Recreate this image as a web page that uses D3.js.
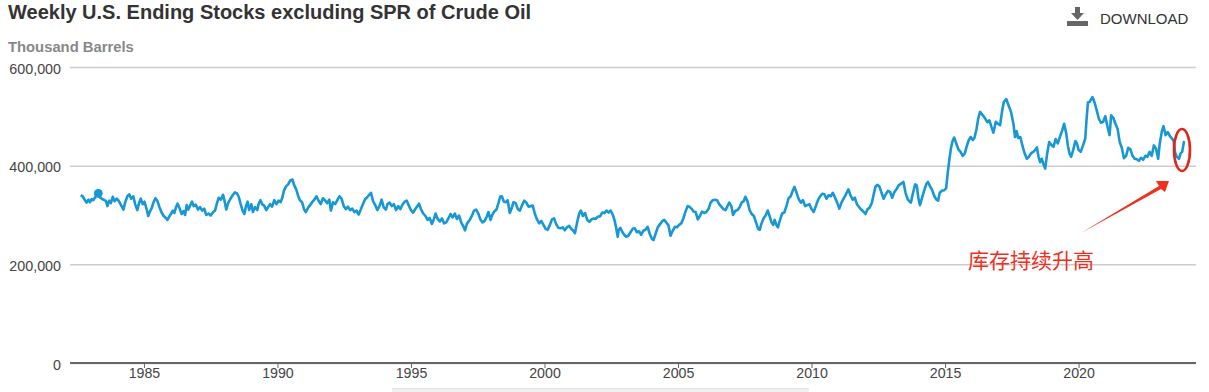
<!DOCTYPE html>
<html>
<head>
<meta charset="utf-8">
<script src="https://cdnjs.cloudflare.com/ajax/libs/d3/7.8.5/d3.min.js"></script>
<style>
  html, body { margin: 0; padding: 0; background: #fff; }
  svg { display: block; }
</style>
</head>
<body>
<script>
// weekly crude stocks excl. SPR (thousand barrels)
var years = [
  1982.63,1982.7,1982.78,1982.85,1982.92,1982.98,1983.04,1983.1,1983.2,1983.29,1983.36,1983.42,
  1983.5,1983.58,1983.63,1983.7,1983.76,1983.83,1983.9,1983.98,1984.04,1984.12,1984.23,1984.3,
  1984.38,1984.45,1984.52,1984.6,1984.67,1984.75,1984.82,1984.88,1984.95,1985.02,1985.1,1985.16,
  1985.23,1985.29,1985.36,1985.43,1985.5,1985.58,1985.66,1985.74,1985.82,1985.88,1985.95,1986.02,
  1986.08,1986.14,1986.2,1986.26,1986.33,1986.41,1986.48,1986.54,1986.6,1986.66,1986.72,1986.8,
  1986.86,1986.94,1987.02,1987.1,1987.18,1987.26,1987.33,1987.42,1987.5,1987.58,1987.66,1987.74,
  1987.8,1987.88,1987.96,1988.02,1988.08,1988.16,1988.24,1988.32,1988.41,1988.48,1988.55,1988.62,
  1988.7,1988.76,1988.82,1988.88,1988.94,1989.02,1989.08,1989.16,1989.24,1989.3,1989.36,1989.44,
  1989.5,1989.58,1989.64,1989.72,1989.8,1989.88,1989.96,1990.04,1990.12,1990.18,1990.24,1990.32,
  1990.4,1990.48,1990.56,1990.62,1990.7,1990.78,1990.84,1990.92,1991.0,1991.06,1991.14,1991.22,
  1991.3,1991.38,1991.46,1991.54,1991.62,1991.7,1991.78,1991.86,1991.94,1992.0,1992.08,1992.16,
  1992.24,1992.32,1992.4,1992.48,1992.56,1992.64,1992.72,1992.8,1992.88,1992.96,1993.04,1993.12,
  1993.2,1993.28,1993.36,1993.42,1993.5,1993.58,1993.66,1993.74,1993.82,1993.9,1993.98,1994.06,
  1994.12,1994.2,1994.28,1994.36,1994.44,1994.52,1994.6,1994.68,1994.76,1994.84,1994.92,1995.0,
  1995.08,1995.16,1995.24,1995.3,1995.38,1995.46,1995.54,1995.62,1995.7,1995.78,1995.86,1995.92,
  1996.0,1996.08,1996.16,1996.24,1996.32,1996.4,1996.48,1996.56,1996.64,1996.72,1996.8,1996.88,
  1996.96,1997.02,1997.1,1997.2,1997.28,1997.36,1997.44,1997.52,1997.6,1997.68,1997.76,1997.84,
  1997.9,1997.98,1998.04,1998.12,1998.2,1998.28,1998.34,1998.4,1998.48,1998.56,1998.62,1998.7,
  1998.76,1998.84,1998.92,1999.0,1999.08,1999.16,1999.24,1999.32,1999.4,1999.48,1999.56,1999.64,
  1999.72,1999.8,1999.88,1999.96,2000.04,2000.12,2000.2,2000.28,2000.36,2000.44,2000.52,2000.6,
  2000.68,2000.76,2000.84,2000.92,2001.0,2001.08,2001.14,2001.22,2001.3,2001.36,2001.44,2001.52,
  2001.6,2001.68,2001.76,2001.84,2001.92,2002.0,2002.08,2002.16,2002.24,2002.32,2002.4,2002.48,
  2002.56,2002.62,2002.68,2002.74,2002.78,2002.84,2002.92,2003.0,2003.06,2003.14,2003.22,2003.3,
  2003.38,2003.46,2003.54,2003.62,2003.7,2003.78,2003.86,2003.94,2004.02,2004.08,2004.16,2004.24,
  2004.32,2004.4,2004.48,2004.56,2004.64,2004.72,2004.8,2004.88,2004.96,2005.04,2005.12,2005.2,
  2005.28,2005.36,2005.42,2005.5,2005.58,2005.66,2005.74,2005.82,2005.9,2005.98,2006.06,2006.14,
  2006.22,2006.3,2006.38,2006.46,2006.54,2006.62,2006.7,2006.78,2006.86,2006.92,2007.0,2007.06,
  2007.14,2007.22,2007.3,2007.38,2007.46,2007.52,2007.6,2007.68,2007.76,2007.84,2007.92,2008.0,
  2008.06,2008.12,2008.2,2008.28,2008.36,2008.44,2008.5,2008.56,2008.62,2008.68,2008.74,2008.82,
  2008.9,2008.98,2009.06,2009.14,2009.22,2009.3,2009.36,2009.44,2009.52,2009.6,2009.68,2009.76,
  2009.84,2009.92,2010.0,2010.08,2010.16,2010.24,2010.32,2010.4,2010.48,2010.56,2010.64,2010.72,
  2010.8,2010.88,2010.96,2011.04,2011.12,2011.2,2011.28,2011.38,2011.46,2011.54,2011.62,2011.7,
  2011.78,2011.86,2011.94,2012.02,2012.1,2012.18,2012.26,2012.34,2012.4,2012.46,2012.54,2012.62,
  2012.7,2012.78,2012.86,2012.94,2013.02,2013.1,2013.18,2013.26,2013.34,2013.44,2013.52,2013.6,
  2013.66,2013.72,2013.8,2013.88,2013.94,2014.0,2014.06,2014.14,2014.22,2014.3,2014.36,2014.44,
  2014.52,2014.6,2014.68,2014.74,2014.8,2014.88,2014.96,2015.04,2015.1,2015.16,2015.22,2015.28,
  2015.34,2015.42,2015.5,2015.58,2015.66,2015.74,2015.8,2015.88,2015.96,2016.04,2016.1,2016.18,
  2016.24,2016.31,2016.4,2016.5,2016.58,2016.66,2016.74,2016.81,2016.9,2016.98,2017.06,2017.14,
  2017.2,2017.29,2017.38,2017.47,2017.56,2017.62,2017.68,2017.74,2017.82,2017.9,2017.98,2018.06,
  2018.14,2018.22,2018.3,2018.38,2018.44,2018.5,2018.56,2018.62,2018.68,2018.75,2018.82,2018.9,
  2018.98,2019.06,2019.14,2019.22,2019.3,2019.38,2019.46,2019.54,2019.6,2019.66,2019.72,2019.8,
  2019.88,2019.94,2020.0,2020.08,2020.16,2020.25,2020.3,2020.35,2020.42,2020.52,2020.6,2020.68,
  2020.76,2020.84,2020.92,2021.0,2021.08,2021.16,2021.22,2021.3,2021.38,2021.46,2021.54,2021.62,
  2021.7,2021.78,2021.86,2021.94,2022.02,2022.1,2022.18,2022.26,2022.34,2022.42,2022.5,2022.58,
  2022.66,2022.74,2022.82,2022.9,2022.98,2023.04,2023.12,2023.18,2023.26,2023.34,2023.42,2023.5,
  2023.56,2023.62,2023.68,2023.76,2023.82,2023.88,2023.95
];
var stocks = [
  340,338,331,325,331,326,332,330,338,342,335,333,
  331,328,318,329,324,337,328,333,330,322,311,326,
  338,342,333,338,322,310,325,333,322,327,312,298,
  308,314,326,334,329,316,305,298,294,290,297,303,
  309,304,316,323,314,302,308,300,320,311,318,327,
  318,321,311,316,309,313,300,303,299,305,309,325,
  335,331,341,328,311,325,333,340,346,344,337,322,
  308,302,318,327,310,322,306,316,310,323,330,321,
  319,310,315,322,317,330,322,329,326,335,349,358,
  362,370,372,361,352,338,330,326,311,306,314,320,
  326,331,338,329,322,334,330,324,331,309,326,322,
  330,338,333,318,312,317,310,313,306,309,301,311,
  322,332,336,340,345,328,320,310,318,331,315,311,
  322,325,318,322,310,318,312,321,327,329,319,310,
  305,312,318,323,311,303,298,290,294,282,292,303,
  292,287,293,283,285,293,302,295,303,292,299,285,
  277,269,283,290,298,309,311,303,291,285,288,297,
  306,290,300,307,311,325,337,338,327,326,330,304,
  312,326,324,312,309,320,329,325,317,318,319,302,
  291,283,288,280,272,270,280,291,293,281,274,273,
  275,269,275,278,272,268,263,285,303,309,298,304,
  290,286,291,293,292,297,297,305,304,309,305,309,
  300,290,275,256,270,274,265,259,256,258,265,272,
  273,265,267,260,268,270,276,262,252,249,262,275,
  281,287,290,285,279,258,268,276,275,280,283,293,
  307,318,317,313,307,306,291,298,307,304,306,312,
  325,330,331,330,322,317,312,310,319,325,318,300,
  308,310,315,325,328,337,328,310,302,298,285,272,
  270,282,293,299,309,296,285,280,290,280,275,290,
  303,305,318,334,338,350,357,345,332,325,330,318,
  320,322,312,306,318,330,338,343,342,333,340,338,
  345,335,325,313,325,333,341,352,340,331,335,322,
  316,311,307,302,312,315,325,345,358,361,358,345,
  333,342,349,347,335,346,352,360,363,367,345,332,
  328,325,345,362,360,335,320,335,350,363,367,358,
  350,338,331,329,345,349,350,354,385,412,435,450,
  457,445,433,428,420,425,437,451,458,452,456,475,
  495,509,503,496,488,492,478,467,489,485,482,512,
  529,535,522,509,485,458,470,456,458,440,425,414,
  418,425,428,432,437,418,407,414,404,394,423,448,
  442,438,454,445,458,470,485,465,440,425,418,432,
  450,445,432,428,440,455,495,528,530,539,528,512,
  495,487,489,500,480,462,502,497,485,475,448,436,
  415,420,436,433,420,414,413,410,416,412,420,418,
  428,420,441,435,414,445,470,480,462,468,460,455,
  450,425,418,414,425,428,450
];
var yTicks = [0, 200000, 400000, 600000];
var xTicks = [1985, 1990, 1995, 2000, 2005, 2010, 2015, 2020];
var markerYear = 1983.29, markerStock = 344;

var width = 1209, height = 392;
var svg = d3.select("body").append("svg")
    .attr("width", width)
    .attr("height", height)
    .style("font-family", "'Liberation Sans', Arial, sans-serif");

// scales
var x = d3.scaleLinear().domain([1982.23, 2024.36]).range([70, 1195]);
var y = d3.scaleLinear().domain([0, 600000]).range([363, 67]);

// title
svg.append("text").attr("x", 8).attr("y", 19)
    .style("font-size", "20px").style("font-weight", "bold").attr("fill", "#333")
    .text("Weekly U.S. Ending Stocks excluding SPR of Crude Oil");
svg.append("text").attr("x", 8).attr("y", 52)
    .style("font-size", "14.8px").style("font-weight", "bold").attr("fill", "#888")
    .text("Thousand Barrels");

// download button
var dl = svg.append("g").attr("fill", "#666");
dl.append("rect").attr("x", 1067).attr("y", 21).attr("width", 21).attr("height", 5);
dl.append("path").attr("d", "M1075,7H1080V13H1084L1077.5,20L1071,13H1075Z");
svg.append("text").attr("x", 1100).attr("y", 24)
    .style("font-size", "15px").attr("fill", "#333").text("DOWNLOAD");

// y axis and grid
var yAxis = svg.append("g")
    .attr("transform", "translate(70,0)")
    .call(d3.axisLeft(y).tickValues(yTicks).tickSize(0).tickPadding(9).tickFormat(d3.format(",")));
yAxis.select(".domain").remove();
yAxis.selectAll("text").style("font-size", "14.3px").style("font-family", "inherit").attr("fill", "#444").attr("dy", "0.42em");
yAxis.selectAll("line")
    .attr("x2", 1126)
    .attr("stroke", "#ccc")
    .attr("stroke-width", 1.5);

// x axis
var xAxis = svg.append("g")
    .attr("transform", "translate(0,363)")
    .call(d3.axisBottom(x).tickValues(xTicks).tickSize(5).tickPadding(0).tickFormat(d3.format("d")));
xAxis.select(".domain").attr("d", "M70,0H1196").attr("stroke", "#666").attr("stroke-width", 2);
xAxis.selectAll("line").attr("stroke", "#666");
xAxis.selectAll("text").style("font-size", "14.2px").style("font-family", "inherit").attr("fill", "#444");

// strip of the page below the chart
svg.append("rect").attr("x", 392).attr("y", 389).attr("width", 417).attr("height", 3)
    .attr("fill", "#f1f1f1").attr("stroke", "none");
svg.append("line").attr("x1", 392).attr("x2", 809).attr("y1", 388.5).attr("y2", 388.5)
    .attr("stroke", "#e4e4e4");

// series
var line = d3.line()
    .x(function(d) { return x(d[0]); })
    .y(function(d) { return y(d[1] * 1000); });
svg.append("path")
    .datum(d3.zip(years, stocks))
    .attr("d", line)
    .attr("fill", "none")
    .attr("stroke", "#1797d3")
    .attr("stroke-width", 2.6)
    .attr("stroke-linejoin", "round");
svg.append("circle")
    .attr("cx", x(markerYear))
    .attr("cy", y(markerStock * 1000))
    .attr("r", 4.4)
    .attr("fill", "#1797d3");

// hand drawn annotation
svg.append("ellipse")
    .attr("cx", 1182).attr("cy", 150).attr("rx", 8).attr("ry", 21)
    .attr("fill", "none").attr("stroke", "#e0251b").attr("stroke-width", 2.6);
svg.append("path")
    .attr("d", "M1081,233L1159,186L1156,181L1169,181L1165,192L1161,189Z")
    .attr("fill", "#f0301f");
svg.append("text").attr("x", 968).attr("y", 268)
    .style("font-family", "'Noto Sans CJK SC'")
    .style("font-size", "21px").attr("fill", "#f0301f")
    .text("库存持续升高");
</script>
</body>
</html>
